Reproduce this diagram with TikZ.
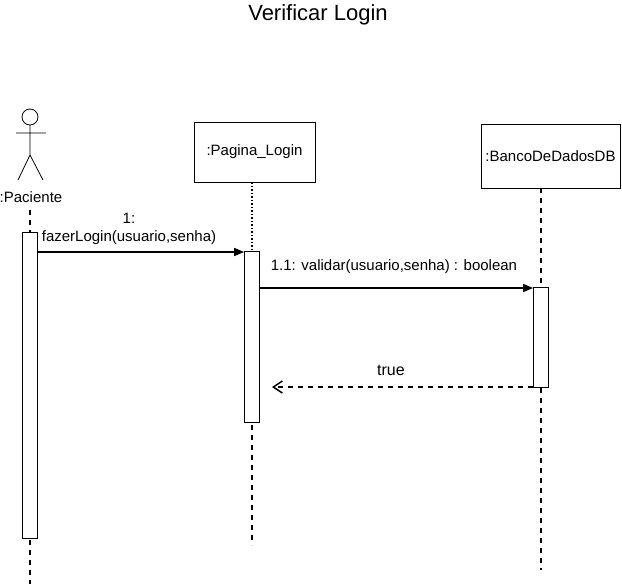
\documentclass[tikz,border=0pt]{standalone}
\usepackage{fontspec}
\setmainfont{Liberation Sans}
\usetikzlibrary{arrows.meta}
\begin{document}
\begin{tikzpicture}[x=1pt,y=-1pt,line width=0.8pt,
  obj/.style={draw,fill=white,minimum width=121pt,minimum height=60pt,font=\fontsize{15}{17}\selectfont,inner sep=0pt},
  act/.style={draw,fill=white,minimum width=15pt,inner sep=0pt},
  life/.style={dash pattern=on 5pt off 5pt,line width=1.5pt},
  msg/.style={-{Triangle[length=10pt,width=8pt]},line width=1.5pt},
  ret/.style={-{Straight Barb[length=9pt,width=12pt]},line width=1.5pt,dash pattern=on 5pt off 5pt},
  lbl/.style={font=\fontsize{15}{18}\selectfont,align=center}]
\useasboundingbox (0,0) rectangle (622,584);
\node[font=\fontsize{22}{24}\selectfont] (title) at (318,15) {Verificar Login};
% actor
\draw (30,117) circle (8);
\draw (30,125) -- (30,155) (16,133) -- (46,133) (18,180) -- (30,155) -- (43,180);
\node[lbl] (pac) at (31,197) {:Paciente};
\coordinate (pt) at (30,210);
\coordinate (pb) at (30,584);
\draw[life] (pt) -- (pb);
\node[act,minimum height=306pt] (pa) at (30,385) {};
% pagina
\node[obj,minimum width=121pt] (pl) at (254.5,152) {:Pagina\_Login};
\coordinate (plb) at (252,545);
\draw[line width=1.5pt,dotted] (pl.south -| plb) -- (252,251);
\draw[life] (252,425) -- (plb);
\node[act,minimum height=171pt] (pla) at (252,336.5) {};
% banco
\node[obj,minimum width=139pt,minimum height=64pt] (bd) at (550.5,156) {:BancoDeDadosDB};
\coordinate (bdb) at (541,570);
\draw[life] (bd.south -| bdb) -- (bdb);
\node[act,minimum height=100pt] (bda) at (541,337) {};
% messages
\draw[msg] (pa.east |- 0,252) -- (pla.west |- 0,252);
\node[lbl] (m1) at (129,229) {1:\\fazerLogin(usuario,senha)};
\draw[msg] (pla.east |- 0,288) -- (bda.west |- 0,288);
\node[lbl] (m2) at (394,267) {1.1: validar(usuario,senha) : boolean};
\draw[ret] (bda.west |- 0,387) -- (272,387);
\node[lbl,font=\fontsize{16}{18}\selectfont] (m3) at (391,370) {true};
\end{tikzpicture}
\end{document}
